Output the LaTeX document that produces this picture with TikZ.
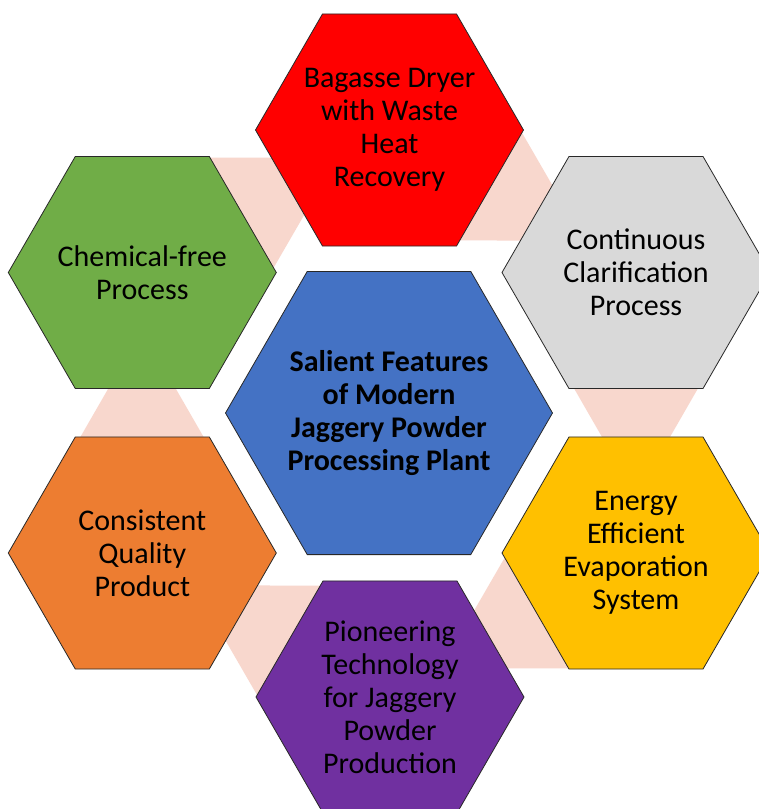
\documentclass[tikz,border=0pt]{standalone}
\usepackage{fontspec}
\setmainfont{Carlito}
\definecolor{hexred}{HTML}{FF0000}
\definecolor{hexgray}{HTML}{D9D9D9}
\definecolor{hexyellow}{HTML}{FFC000}
\definecolor{hexpurple}{HTML}{7030A0}
\definecolor{hexorange}{HTML}{ED7D31}
\definecolor{hexgreen}{HTML}{70AD47}
\definecolor{hexblue}{HTML}{4472C4}
\definecolor{bandpink}{RGB}{248,215,205}
\definecolor{hexline}{RGB}{40,40,40}
% flat-topped hexagon: centre #1, circumradius #2, fill #3
\newcommand\drawhex[3]{%
  \path[hexface, fill=#3] (#1) ++(0:#2) -- ++(120:#2) -- ++(180:#2)
    -- ++(240:#2) -- ++(300:#2) -- ++(0:#2) -- cycle;}
\begin{document}
\begin{tikzpicture}[x=1pt, y=-1pt,
  hexface/.style={draw=hexline, line width=0.8pt},
  band/.style={fill=bandpink},
  hextext/.style={align=center, inner sep=0pt, text=black,
    font=\fontsize{30}{33}\selectfont}]
\clip (0,0) rectangle (759,809);
\fill[white] (0,0) rectangle (759,809);

% hexagon centres
\coordinate (C)      at (389,413);
\coordinate (red)    at (389.5,130);
\coordinate (gray)   at (636,272.5);
\coordinate (yellow) at (636,553);
\coordinate (purple) at (390,697);
\coordinate (orange) at (142.3,553);
\coordinate (green)  at (142.3,272.5);

% pale triangular bands linking neighbouring hexagons
\foreach \a in {0,60,...,300}
  \fill[band, rotate around={\a:(C)}] (636,496) -- (507,272) -- (765,272) -- cycle;

% hexagons
\drawhex{red}{134}{hexred}
\drawhex{gray}{134}{hexgray}
\drawhex{yellow}{134}{hexyellow}
\drawhex{purple}{134}{hexpurple}
\drawhex{orange}{134}{hexorange}
\drawhex{green}{134}{hexgreen}
\drawhex{C}{163.5}{hexblue}

% captions
\node[hextext, font=\fontsize{30}{33}\selectfont\bfseries] (tCenter) at (C)
  {Salient Features\\of Modern\\Jaggery Powder\\Processing Plant};
\node[hextext] (tRed) at (red) {Bagasse Dryer\\with Waste\\Heat\\Recovery};
\node[hextext] (tGray) at (gray) {Continuous\\Clarification\\Process};
\node[hextext] (tYellow) at (yellow) {Energy\\Efficient\\Evaporation\\System};
\node[hextext] (tPurple) at (purple) {Pioneering\\Technology\\for Jaggery\\Powder\\Production};
\node[hextext] (tOrange) at (orange) {Consistent\\Quality\\Product};
\node[hextext] (tGreen) at (green) {Chemical-free\\Process};
\end{tikzpicture}
\end{document}
